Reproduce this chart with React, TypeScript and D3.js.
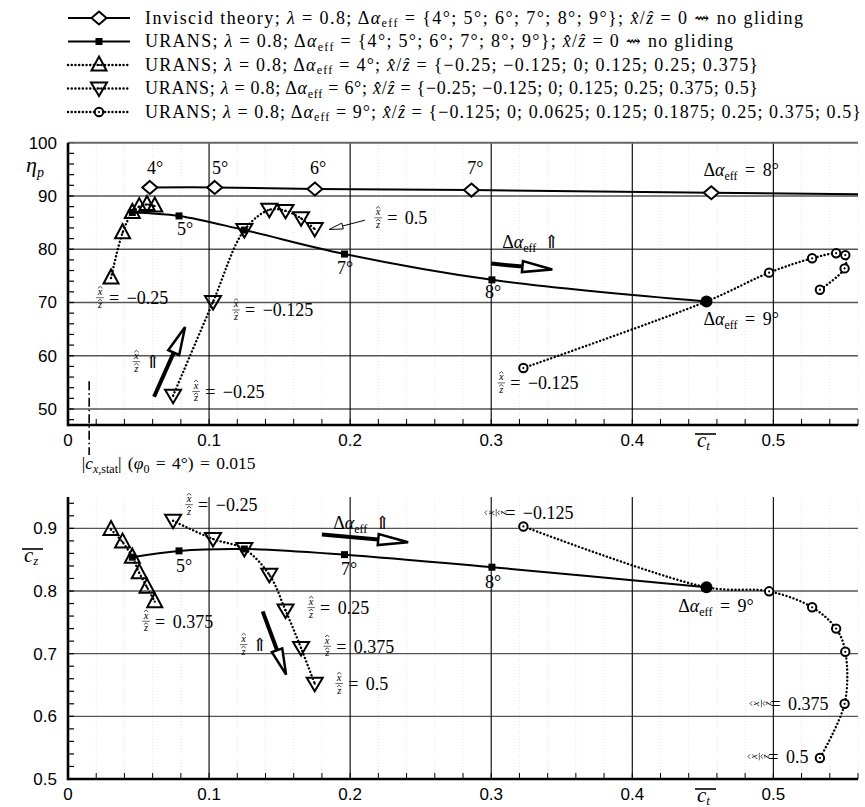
import React from 'react';
import * as d3 from 'd3';

const W = 865;
const H = 807;
const SERIF = "'Liberation Serif', 'DejaVu Serif', serif";
const SANS = "'Liberation Sans', Arial, sans-serif";

/* tick labels */
const ctTicks = [0, 0.1, 0.2, 0.3, 0.4, 0.5];
const etaTicks = [50, 60, 70, 80, 90, 100];
const czTicks = [0.5, 0.6, 0.7, 0.8, 0.9];

/* inviscid theory, alpha_eff = 4..9 deg (9 deg lies beyond the axis) */
const invCt = [0.058, 0.104, 0.175, 0.286, 0.456, 0.71];
const invEta = [91.6, 91.6, 91.3, 91.1, 90.6, 89.9];

/* URANS, no gliding, alpha_eff = 4..9 deg */
const ursCt = [0.0456, 0.0787, 0.125, 0.196, 0.3005, 0.4526];
const ursEta = [86.9, 86.25, 83.6, 79.1, 74.25, 70.2];
const ursCz = [0.854, 0.864, 0.867, 0.858, 0.838, 0.806];

/* URANS, alpha_eff = 4 deg, x/z = -0.25 .. 0.375 */
const g4Ct = [0.0305, 0.0387, 0.0456, 0.0505, 0.056, 0.0615];
const g4Eta = [74.6, 83.1, 86.9, 88.0, 88.4, 88.1];
const g4Cz = [0.898, 0.878, 0.854, 0.829, 0.806, 0.783];

/* URANS, alpha_eff = 6 deg, x/z = -0.25 .. 0.5 */
const g6Ct = [0.0745, 0.1028, 0.125, 0.1427, 0.1542, 0.1652, 0.1749];
const g6Eta = [52.5, 70.1, 83.6, 87.4, 87.2, 85.8, 83.8];
const g6Cz = [0.912, 0.883, 0.867, 0.826, 0.769, 0.709, 0.652];

/* URANS, alpha_eff = 9 deg, x/z = -0.125 .. 0.5 */
const g9Ct = [0.3228, 0.4526, 0.497, 0.5275, 0.5445, 0.551, 0.5505, 0.533];
const g9Eta = [57.7, 70.2, 75.6, 78.3, 79.25, 78.9, 76.4, 72.4];
const g9Cz = [0.903, 0.806, 0.7995, 0.774, 0.74, 0.703, 0.62, 0.5335];

const alphaSet = ['4°', '5°', '6°', '7°', '8°', '9°'];
const xz4 = ['−0.25', '−0.125', '0', '0.125', '0.25', '0.375'];
const xz6 = ['−0.25', '−0.125', '0', '0.125', '0.25', '0.375', '0.5'];
const xz9 = ['−0.125', '0', '0.0625', '0.125', '0.1875', '0.25', '0.375', '0.5'];
const cxStat = 0.015;

const L = 68;
const R = 858;
const x = d3.scaleLinear().domain([0, 0.56]).range([L, R]);
const yTop = d3.scaleLinear().domain([47, 100]).range([425, 142.7]);
const yBot = d3.scaleLinear().domain([0.5, 0.95]).range([779, 497]);

type Pt = [number, number];
const zip = (a: number[], b: number[]): Pt[] => a.map((v, i) => [v, b[i]]);

const DOTS = '0.1 3.6';
const FS = 18;

const Marker = ({ kind, cx, cy }: { kind: string; cx: number; cy: number }) => {
  const t = `translate(${cx},${cy})`;
  if (kind === 'diamond')
    return <polygon transform={t} points="0,-6.5 7.5,0 0,6.5 -7.5,0" fill="#fff" stroke="#000" strokeWidth={2} />;
  if (kind === 'square') return <rect x={cx - 3.5} y={cy - 3.5} width={7} height={7} fill="#000" />;
  if (kind === 'dot') return <circle cx={cx} cy={cy} r={6} fill="#000" />;
  const inner = <circle r={1.1} fill="#000" />;
  if (kind === 'up')
    return (
      <g transform={t}>
        <polygon points="0,-8.5 7.5,5.5 -7.5,5.5" fill="none" stroke="#000" strokeWidth={2} />
        {inner}
      </g>
    );
  if (kind === 'down')
    return (
      <g transform={t}>
        <polygon points="-8,-6 8,-6 0,7.5" fill="none" stroke="#000" strokeWidth={2} />
        {inner}
      </g>
    );
  return (
    <g transform={t}>
      <circle r={4.2} fill="#fff" stroke="#000" strokeWidth={2} />
      {inner}
    </g>
  );
};

// stacked x^/z^ fraction, hats drawn as small carets
const Frac = ({ cx, cy, rot = 0 }: { cx: number; cy: number; rot?: number }) => (
  <g transform={`translate(${cx},${cy}) rotate(${rot})`} fontFamily={SERIF} fontStyle="italic" fontSize={10.5} textAnchor="middle">
    <text y={-2.5}>x</text>
    <path d="M-2.2,-9.3 L0,-11.3 L2.2,-9.3" fill="none" stroke="#000" strokeWidth={0.7} />
    <line x1={-3.8} x2={3.8} y1={0} y2={0} stroke="#000" strokeWidth={0.6} />
    <text y={10}>z</text>
    <path d="M-2.2,3.4 L0,1.6 L2.2,3.4" fill="none" stroke="#000" strokeWidth={0.7} />
  </g>
);

const XzLabel = ({ px, py, val, rot = 0 }: { px: number; py: number; val: string; rot?: number }) => (
  <g>
    <Frac cx={px + 4} cy={py} rot={rot} />
    <text x={px + 13} y={py} dy="0.35em" fontFamily={SERIF} fontSize={FS} wordSpacing={3}>
      = {val}
    </text>
  </g>
);

const AlphaEff = ({ px, py, rest }: { px: number; py: number; rest: string }) => (
  <text x={px} y={py} dy="0.35em" fontFamily={SERIF} fontSize={FS} wordSpacing={3}>
    Δ<tspan fontStyle="italic">α</tspan>
    <tspan fontSize={12} dy={4}>eff</tspan>
    <tspan dy={-4}>{rest}</tspan>
  </text>
);

const Arrow = ({ a, b, head = 28, half = 6, w = 3.5 }: { a: Pt; b: Pt; head?: number; half?: number; w?: number }) => {
  const dx = b[0] - a[0];
  const dy = b[1] - a[1];
  const len = Math.hypot(dx, dy);
  const ux = dx / len;
  const uy = dy / len;
  const bx = b[0] - ux * head;
  const by = b[1] - uy * head;
  const p1 = [bx - uy * half, by + ux * half];
  const p2 = [bx + uy * half, by - ux * half];
  return (
    <g>
      <line x1={a[0]} y1={a[1]} x2={bx} y2={by} stroke="#000" strokeWidth={w} />
      <polygon points={`${b[0]},${b[1]} ${p1[0]},${p1[1]} ${p2[0]},${p2[1]}`} fill="#fff" stroke="#000" strokeWidth={Math.min(w, 2.5)} />
    </g>
  );
};

const Axes = ({ y, yTicks, minorStep, fmt, top }: { y: d3.ScaleLinear<number, number>; yTicks: number[]; minorStep: number; fmt: (v: number) => string; top: boolean }) => {
  const [y0, y1] = y.domain();
  const bottom = y.range()[0];
  const topPx = y.range()[1];
  const xMinor = d3.range(0, 0.5601, 0.02);
  const yMinor = d3.range(Math.ceil(y0 / minorStep) * minorStep, y1 + 1e-9, minorStep);
  return (
    <g>
      {xMinor.map((v) => (
        <line key={'fv' + v} x1={x(v)} x2={x(v)} y1={bottom} y2={topPx} stroke="#e6e6e6" strokeWidth={1} strokeDasharray="1 2" />
      ))}
      {yTicks
        .filter((v) => v > y0 && v < y1)
        .map((v) => (
          <line key={'gh' + v} x1={L} x2={R} y1={y(v)} y2={y(v)} stroke="#555" strokeWidth={1.4} />
        ))}
      {ctTicks
        .filter((v) => v > 0)
        .map((v) => (
          <line key={'gv' + v} x1={x(v)} x2={x(v)} y1={bottom} y2={topPx} stroke="#000" strokeWidth={1.1} />
        ))}
      {xMinor.map((v) => (
        <line key={'tx' + v} x1={x(v)} x2={x(v)} y1={bottom} y2={bottom - 6} stroke="#000" strokeWidth={1} />
      ))}
      {yMinor.map((v) => (
        <line key={'ty' + v} x1={L} x2={L + 6} y1={y(v)} y2={y(v)} stroke="#000" strokeWidth={1.2} />
      ))}
      {top && <line x1={L} x2={R} y1={topPx} y2={topPx} stroke="#666" strokeWidth={2} />}
      <line x1={L} x2={L} y1={bottom + 1.2} y2={topPx} stroke="#000" strokeWidth={2.6} />
      <line x1={L} x2={R} y1={bottom} y2={bottom} stroke="#000" strokeWidth={2.4} />
      {ctTicks.map((v) => (
        <text key={'lx' + v} x={x(v)} y={bottom + 21} textAnchor="middle" fontFamily={SANS} fontSize={17}>
          {v === 0 ? '0' : String(v)}
        </text>
      ))}
      {yTicks.map((v) => (
        <text key={'ly' + v} x={L - 11} y={y(v)} dy="0.35em" textAnchor="end" fontFamily={SANS} fontSize={17}>
          {fmt(v)}
        </text>
      ))}
    </g>
  );
};

const Series = ({ pts, dotted }: { pts: Pt[]; dotted: boolean }) => {
  const line = d3.line().curve(d3.curveCatmullRom.alpha(0.5));
  return (
    <path
      d={line(pts) || ''}
      fill="none"
      stroke="#000"
      strokeWidth={dotted ? 2.4 : 2}
      strokeDasharray={dotted ? DOTS : undefined}
      strokeLinecap={dotted ? 'round' : 'butt'}
    />
  );
};

const legendRows = [
  { kind: 'diamond', dotted: false, head: 'Inviscid theory; ', alpha: ` = {${alphaSet.join('; ')}};  `, xz: ' = 0  ⇝ no gliding', len: 658 },
  { kind: 'square', dotted: false, head: 'URANS; ', alpha: ` = {${alphaSet.join('; ')}};  `, xz: ' = 0  ⇝ no gliding', len: 588 },
  { kind: 'up', dotted: true, head: 'URANS; ', alpha: ` = ${alphaSet[0]};  `, xz: ` = {${xz4.join('; ')}}`, len: 613 },
  { kind: 'down', dotted: true, head: 'URANS; ', alpha: ` = ${alphaSet[2]};  `, xz: ` = {${xz6.join('; ')}}`, len: 613 },
  { kind: 'circle', dotted: true, head: 'URANS; ', alpha: ` = ${alphaSet[5]};  `, xz: ` = {${xz9.join('; ')}}`, len: 716 },
];

const Overbar = ({ px, py, sub }: { px: number; py: number; sub: string }) => (
  <g>
    <line x1={px - 2} x2={px + 19} y1={py - 13} y2={py - 13} stroke="#000" strokeWidth={1.6} />
    <text x={px} y={py} fontSize={21} fontStyle="italic" fontFamily={SERIF}>
      c<tspan fontSize={13} dy={2.5}>{sub}</tspan>
    </text>
  </g>
);

const App = () => {
  const ptsInv = zip(invCt, invEta);
  const topSeries = [
    { pts: zip(g4Ct, g4Eta), kind: 'up' },
    { pts: zip(g6Ct, g6Eta), kind: 'down' },
    { pts: zip(g9Ct, g9Eta), kind: 'circle' },
  ];
  const botSeries = [
    { pts: zip(g4Ct, g4Cz), kind: 'up' },
    { pts: zip(g6Ct, g6Cz), kind: 'down' },
    { pts: zip(g9Ct, g9Cz), kind: 'circle' },
  ];
  const T = (p: Pt): Pt => [x(p[0]), yTop(p[1])];
  const B = (p: Pt): Pt => [x(p[0]), yBot(p[1])];

  return (
    <svg width={W} height={H} style={{ position: 'absolute', left: 0, top: 0, background: '#fff' }} fontFamily={SERIF}>
      <defs>
        <clipPath id="clip-top">
          <rect x={L} y={yTop(100) - 10} width={R - L} height={yTop(47) - yTop(100) + 10} />
        </clipPath>
        <clipPath id="clip-bot">
          <rect x={L} y={yBot(0.95) - 10} width={R - L} height={yBot(0.5) - yBot(0.95) + 10} />
        </clipPath>
      </defs>

      {/* legend */}
      {legendRows.map((r, i) => {
        const yy = 18 + i * 23.5;
        return (
          <g key={i}>
            <line x1={68} x2={130} y1={yy} y2={yy} stroke="#000" strokeWidth={r.dotted ? 2.4 : 2} strokeDasharray={r.dotted ? DOTS : undefined} strokeLinecap={r.dotted ? 'round' : 'butt'} />
            <Marker kind={r.kind} cx={99} cy={yy} />
            <text x={145} y={yy} dy="0.33em" fontSize={18} textLength={r.len} lengthAdjust="spacing">
              {r.head}
              <tspan fontStyle="italic">λ</tspan> = 0.8;  Δ<tspan fontStyle="italic">α</tspan>
              <tspan fontSize={12} dy={3.5}>eff</tspan>
              <tspan dy={-3.5}>{r.alpha}</tspan>
              <tspan fontStyle="italic">x̂</tspan>/<tspan fontStyle="italic">ẑ</tspan>
              {r.xz}
            </text>
          </g>
        );
      })}

      {/* ===== top plot: eta_p over c_t ===== */}
      <Axes y={yTop} yTicks={etaTicks} minorStep={2} fmt={(v) => String(v)} top={true} />
      <text x={26} y={172} fontSize={22} fontStyle="italic">
        η<tspan fontSize={14} dy={5}>p</tspan>
      </text>
      <Overbar px={697} py={447} sub="t" />

      <line x1={x(cxStat)} x2={x(cxStat)} y1={yTop(55.2)} y2={455} stroke="#000" strokeWidth={1.6} strokeDasharray="9 3 1.5 3" />
      <text x={x(0.0097)} y={yTop(39.9)} dy="0.35em" fontSize={17.5} wordSpacing={2}>
        |<tspan fontStyle="italic">c</tspan>
        <tspan fontSize={12} dy={4}>
          <tspan fontStyle="italic">x</tspan>,stat
        </tspan>
        <tspan dy={-4}>| (</tspan>
        <tspan fontStyle="italic">φ</tspan>
        <tspan fontSize={12} dy={4}>0</tspan>
        <tspan dy={-4}> = 4°) = 0.015</tspan>
      </text>

      <g clipPath="url(#clip-top)">
        <Series pts={ptsInv.map(T)} dotted={false} />
        <Series pts={zip(ursCt, ursEta).map(T)} dotted={false} />
        {topSeries.map((s, i) => (
          <Series key={i} pts={s.pts.map(T)} dotted={true} />
        ))}
        {ptsInv.map((p, i) => {
          const [px, py] = T(p);
          return <Marker key={'i' + i} kind="diamond" cx={px} cy={py} />;
        })}
        {topSeries.map((s, j) =>
          s.pts.map((p, i) => {
            const [px, py] = T(p);
            return <Marker key={j + '-' + i} kind={s.kind} cx={px} cy={py} />;
          })
        )}
        {zip(ursCt, ursEta).map((p, i) => {
          const [px, py] = T(p);
          return <Marker key={'u' + i} kind={i === ursCt.length - 1 ? 'dot' : 'square'} cx={px} cy={py} />;
        })}
      </g>

      {/* top annotations */}
      {[
        ['4°', 0.0617],
        ['5°', 0.1078],
        ['6°', 0.1773],
        ['7°', 0.2887],
      ].map(([t, c]) => (
        <text key={t as string} x={x(c as number)} y={yTop(95.4)} dy="0.35em" textAnchor="middle" fontSize={FS}>
          {t}
        </text>
      ))}
      <AlphaEff px={x(0.4504)} py={yTop(94.9)} rest=" = 8°" />
      <text x={x(0.083)} y={yTop(83.8)} dy="0.35em" textAnchor="middle" fontSize={FS}>5°</text>
      <text x={x(0.1965)} y={yTop(76.5)} dy="0.35em" textAnchor="middle" fontSize={FS}>7°</text>
      <text x={x(0.3014)} y={yTop(72.0)} dy="0.35em" textAnchor="middle" fontSize={FS}>8°</text>
      <AlphaEff px={x(0.4504)} py={yTop(66.9)} rest=" = 9°" />
      <XzLabel px={x(0.0199)} py={yTop(70.9)} val="−0.25" />
      <XzLabel px={x(0.1163)} py={yTop(68.6)} val="−0.125" />
      <XzLabel px={x(0.088)} py={yTop(53.3)} val="−0.25" />
      <XzLabel px={x(0.3043)} py={yTop(54.9)} val="−0.125" />
      <XzLabel px={x(0.217)} py={yTop(85.9)} val="0.5" />
      <Frac cx={x(0.0485)} cy={yTop(58.9)} />
      <text x={x(0.0545)} y={yTop(58.9)} dy="0.35em" fontSize={FS}>⇑</text>
      <AlphaEff px={x(0.3078)} py={yTop(81.4)} rest=" ⇑" />
      <Arrow a={T([0.061, 52.3])} b={T([0.083, 65.4])} head={28} half={6} w={4} />
      <Arrow a={T([0.3, 77.3])} b={T([0.3433, 76.2])} head={30} half={5.5} w={4} />
      <Arrow a={T([0.2105, 85.45])} b={T([0.185, 83.7])} head={14} half={3} w={1} />

      {/* ===== bottom plot: c_z over c_t ===== */}
      <Axes y={yBot} yTicks={czTicks} minorStep={0.02} fmt={(v) => v.toFixed(1)} top={false} />
      <Overbar px={24} py={562} sub="z" />
      <Overbar px={697} py={802} sub="t" />

      <g clipPath="url(#clip-bot)">
        <Series pts={zip(ursCt, ursCz).map(B)} dotted={false} />
        {botSeries.map((s, i) => (
          <Series key={i} pts={s.pts.map(B)} dotted={true} />
        ))}
        {botSeries.map((s, j) =>
          s.pts.map((p, i) => {
            const [px, py] = B(p);
            return <Marker key={j + '-' + i} kind={s.kind} cx={px} cy={py} />;
          })
        )}
        {zip(ursCt, ursCz).map((p, i) => {
          const [px, py] = B(p);
          return <Marker key={'u' + i} kind={i === ursCt.length - 1 ? 'dot' : 'square'} cx={px} cy={py} />;
        })}
      </g>

      {/* bottom annotations */}
      <XzLabel px={x(0.083)} py={yBot(0.9378)} val="−0.25" />
      <AlphaEff px={x(0.188)} py={yBot(0.9096)} rest=" ⇑" />
      <text x={x(0.0823)} y={yBot(0.8405)} dy="0.35em" textAnchor="middle" fontSize={FS}>5°</text>
      <text x={x(0.1993)} y={yBot(0.8357)} dy="0.35em" textAnchor="middle" fontSize={FS}>7°</text>
      <text x={x(0.3014)} y={yBot(0.8155)} dy="0.35em" textAnchor="middle" fontSize={FS}>8°</text>
      <AlphaEff px={x(0.4326)} py={yBot(0.7767)} rest=" = 9°" />
      <XzLabel px={x(0.0525)} py={yBot(0.7517)} val="0.375" />
      <XzLabel px={x(0.1695)} py={yBot(0.7735)} val="0.25" />
      <Frac cx={x(0.1245)} cy={yBot(0.7145)} />
      <text x={x(0.1305)} y={yBot(0.7145)} dy="0.35em" fontSize={FS}>⇑</text>
      <XzLabel px={x(0.1809)} py={yBot(0.7118)} val="0.375" />
      <XzLabel px={x(0.1894)} py={yBot(0.6523)} val="0.5" />
      <XzLabel px={x(0.3007)} py={yBot(0.925)} val="−0.125" rot={-90} />
      <XzLabel px={x(0.4887)} py={yBot(0.6204)} val="0.375" rot={-90} />
      <XzLabel px={x(0.4872)} py={yBot(0.5359)} val="0.5" rot={-90} />
      <Arrow a={B([0.18, 0.89])} b={B([0.2411, 0.8778])} head={30} half={5.5} w={4} />
      <Arrow a={B([0.138, 0.7675])} b={B([0.1546, 0.6665])} head={26} half={5.5} w={4} />
    </svg>
  );
};

export default App;
